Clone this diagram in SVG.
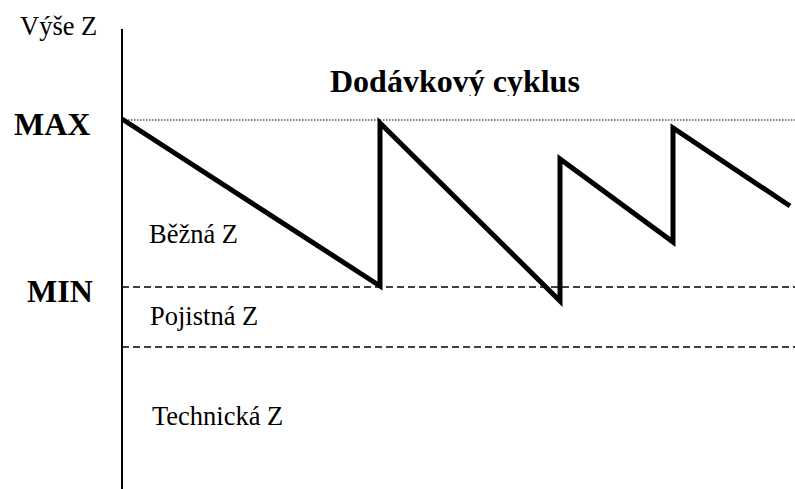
<svg xmlns="http://www.w3.org/2000/svg" width="795" height="489" viewBox="0 0 795 489">
  <style>
    .lbl { font-size: 26.5px; }
    .big { font-size: 32px; font-weight: bold; }
    .title { font-size: 32px; font-weight: bold; }
    .dash { stroke: #000; stroke-width: 1.6; stroke-dasharray: 7 4; fill: none; }
  </style>
  <defs>
    <!-- title box cuts the descenders -->
    <clipPath id="title-box">
      <rect x="300" y="50" width="320" height="46"/>
    </clipPath>
  </defs>
  <rect width="795" height="489" fill="#fff"/>

  <g id="axis">
    <line x1="122" y1="29" x2="122" y2="489" stroke="#000" stroke-width="2"/>
    <text class="lbl" x="20" y="35" font-family="'Liberation Serif', 'Times New Roman', serif">Výše Z</text>
  </g>

  <g id="levels">
    <line x1="122" y1="120" x2="795" y2="120" stroke="#000" stroke-width="1.2" stroke-dasharray="1.5 1.5"/>
    <line class="dash" x1="122" y1="287" x2="795" y2="287"/>
    <line class="dash" x1="122" y1="347" x2="795" y2="347"/>
    <text class="big" x="14" y="135" font-family="'Liberation Serif', 'Times New Roman', serif">MAX</text>
    <text class="big" x="27" y="302" font-family="'Liberation Serif', 'Times New Roman', serif">MIN</text>
  </g>

  <g id="title" clip-path="url(#title-box)">
    <text class="title" x="330" y="92" font-family="'Liberation Serif', 'Times New Roman', serif">Dodávkový cyklus</text>
  </g>

  <g id="zones">
    <text class="lbl" x="149" y="243" font-family="'Liberation Serif', 'Times New Roman', serif">Běžná Z</text>
    <text class="lbl" x="150" y="325" font-family="'Liberation Serif', 'Times New Roman', serif">Pojistná Z</text>
    <text class="lbl" x="152" y="425" font-family="'Liberation Serif', 'Times New Roman', serif">Technická Z</text>
  </g>

  <g id="stock-curve">
    <polyline points="122,119 380,286 380,123 560,301 560,159 673,242 673,128 790,206"
      fill="none" stroke="#000" stroke-width="5" stroke-linejoin="miter" stroke-miterlimit="3"/>
  </g>
</svg>
